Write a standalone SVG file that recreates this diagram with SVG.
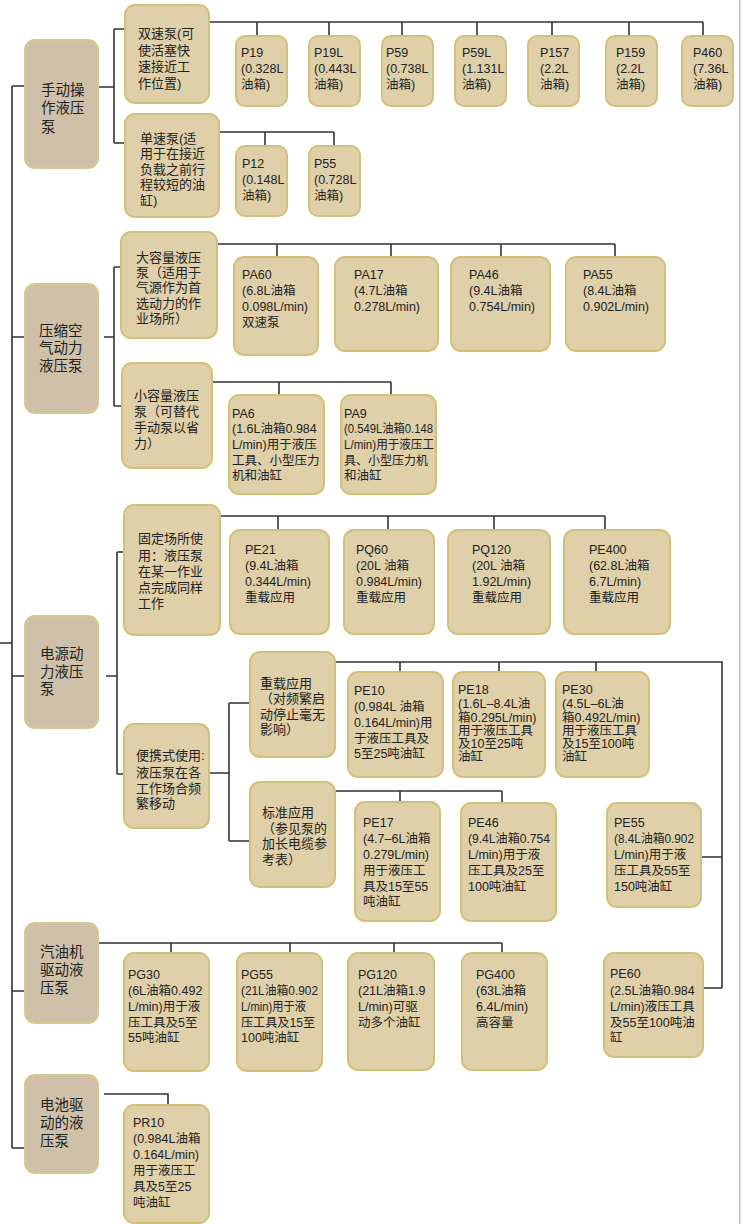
<svg xmlns="http://www.w3.org/2000/svg" width="742" height="1224" viewBox="0 0 742 1224">
<style>
.cat{fill:#cfc1a9;stroke:#d9c88e;stroke-width:2}
.leaf{fill:#dfd0a9;stroke:#d3c179;stroke-width:2}
.ct{font-family:"Liberation Sans","Noto Sans CJK SC",sans-serif;font-size:14.5px;fill:#222}
.st{font-family:"Liberation Sans","Noto Sans CJK SC",sans-serif;font-size:13px;fill:#222}
.lt{font-family:"Liberation Sans","Noto Sans CJK SC",sans-serif;font-size:12.5px;fill:#222}
.wire{fill:none;stroke:#333;stroke-width:1.6}
</style>
<rect width="742" height="1224" fill="#fff"/>
<rect x="739" y="0" width="1.5" height="1224" fill="#c4c4c4"/>
<g id="connectors" class="wire">
<path d="M12,86V1148M12,86H25M12,337H25M12,676H25M12,991H25M12,1148H25M0,643H12"/>
<path d="M98,87H114M114,29V143M114,29H125M114,143H125"/>
<path d="M209,22H703M257,22V36M329,22V36M402,22V36M477,22V36M552,22V36M629,22V36M703,22V36"/>
<path d="M219,132H334M265,132V146M334,132V146"/>
<path d="M104,337H114M114,267V406M114,267H121M114,406H122"/>
<path d="M217,244H615M277,244V257M391,244V257M501,244V257M615,244V257"/>
<path d="M212,382H391M279,382V395M391,382V395"/>
<path d="M106,676H117M117,552V774M117,552H124M117,774H124"/>
<path d="M220,516H605M278,516V530M388,516V530M494,516V530M605,516V530"/>
<path d="M209,773H229M229,703V841M229,703H250M229,841H250"/>
<path d="M335,662H722V988M400,662V672M499,662V672M596,662V672M701,857H722M703,988H722"/>
<path d="M335,791H502M400,791V802M502,791V802"/>
<path d="M98,943H502M171,943V953M290,943V953M394,943V953M502,943V953"/>
<path d="M104,1094H168V1105"/>
</g>
<g id="n-manual"><rect class="cat" x="25" y="40" width="73" height="128" rx="10"/><text class="ct"><tspan x="41" y="95">手动操</tspan><tspan x="41" y="113">作液压</tspan><tspan x="41" y="132">泵</tspan></text></g>
<g id="n-air"><rect class="cat" x="25" y="284" width="73" height="129" rx="10"/><text class="ct"><tspan x="39" y="336">压缩空</tspan><tspan x="39" y="353">气动力</tspan><tspan x="39" y="371">液压泵</tspan></text></g>
<g id="n-elec"><rect class="cat" x="25" y="616" width="73" height="112" rx="10"/><text class="ct"><tspan x="40" y="659">电源动</tspan><tspan x="40" y="677">力液压</tspan><tspan x="40" y="694">泵</tspan></text></g>
<g id="n-gas"><rect class="cat" x="25" y="923" width="73" height="100" rx="10"/><text class="ct"><tspan x="40" y="957">汽油机</tspan><tspan x="40" y="975">驱动液</tspan><tspan x="40" y="993">压泵</tspan></text></g>
<g id="n-batt"><rect class="cat" x="25" y="1075" width="73" height="98" rx="10"/><text class="ct"><tspan x="40" y="1110">电池驱</tspan><tspan x="40" y="1128">动的液</tspan><tspan x="40" y="1146">压泵</tspan></text></g>
<g id="n-dual"><rect class="leaf" x="125" y="5" width="84" height="98" rx="10"/><text class="st"><tspan x="138" y="38">双速泵(可</tspan><tspan x="138" y="55">使活塞快</tspan><tspan x="138" y="71">速接近工</tspan><tspan x="138" y="88">作位置)</tspan></text></g>
<g id="n-single"><rect class="leaf" x="125" y="114" width="94" height="103" rx="10"/><text class="st"><tspan x="140" y="143">单速泵(适</tspan><tspan x="140" y="158">用于在接近</tspan><tspan x="140" y="174">负载之前行</tspan><tspan x="140" y="189">程较短的油</tspan><tspan x="140" y="205">缸)</tspan></text></g>
<g id="n-big"><rect class="leaf" x="121" y="232" width="96" height="106" rx="10"/><text class="st"><tspan x="136" y="262">大容量液压</tspan><tspan x="136" y="277">泵（适用于</tspan><tspan x="136" y="292">气源作为首</tspan><tspan x="136" y="308">选动力的作</tspan><tspan x="136" y="323">业场所）</tspan></text></g>
<g id="n-small"><rect class="leaf" x="122" y="363" width="90" height="105" rx="10"/><text class="st"><tspan x="134" y="400">小容量液压</tspan><tspan x="134" y="416">泵（可替代</tspan><tspan x="134" y="432">手动泵以省</tspan><tspan x="134" y="448">力）</tspan></text></g>
<g id="n-fixed"><rect class="leaf" x="124" y="505" width="96" height="130" rx="10"/><text class="st"><tspan x="138" y="543">固定场所使</tspan><tspan x="138" y="560">用：液压泵</tspan><tspan x="138" y="576">在某一作业</tspan><tspan x="138" y="592">点完成同样</tspan><tspan x="138" y="608">工作</tspan></text></g>
<g id="n-portable"><rect class="leaf" x="124" y="724" width="85" height="104" rx="10"/><text class="st"><tspan x="136" y="760">便携式使用:</tspan><tspan x="136" y="777">液压泵在各</tspan><tspan x="136" y="793">工作场合频</tspan><tspan x="136" y="808">繁移动</tspan></text></g>
<g id="n-heavy"><rect class="leaf" x="250" y="652" width="85" height="105" rx="10"/><text class="st"><tspan x="260" y="688">重载应用</tspan><tspan x="260" y="703">（对频繁启</tspan><tspan x="260" y="719">动停止毫无</tspan><tspan x="260" y="734">影响）</tspan></text></g>
<g id="n-std"><rect class="leaf" x="250" y="782" width="85" height="105" rx="10"/><text class="st"><tspan x="262" y="817">标准应用</tspan><tspan x="262" y="833">（参见泵的</tspan><tspan x="262" y="848">加长电缆参</tspan><tspan x="262" y="864">考表）</tspan></text></g>
<g id="n-p19"><rect class="leaf" x="236" y="36" width="51" height="70" rx="9"/><text class="lt"><tspan x="241" y="57">P19</tspan><tspan x="241" y="73">(0.328L</tspan><tspan x="241" y="89">油箱)</tspan></text></g>
<g id="n-p19l"><rect class="leaf" x="309" y="36" width="51" height="70" rx="9"/><text class="lt"><tspan x="314" y="57">P19L</tspan><tspan x="314" y="73">(0.443L</tspan><tspan x="314" y="89">油箱)</tspan></text></g>
<g id="n-p59"><rect class="leaf" x="382" y="36" width="51" height="70" rx="9"/><text class="lt"><tspan x="386" y="57">P59</tspan><tspan x="386" y="73">(0.738L</tspan><tspan x="386" y="89">油箱)</tspan></text></g>
<g id="n-p59l"><rect class="leaf" x="455" y="36" width="51" height="70" rx="9"/><text class="lt"><tspan x="462" y="57">P59L</tspan><tspan x="462" y="73">(1.131L</tspan><tspan x="462" y="89">油箱)</tspan></text></g>
<g id="n-p157"><rect class="leaf" x="528" y="36" width="51" height="70" rx="9"/><text class="lt"><tspan x="540" y="57">P157</tspan><tspan x="540" y="73">(2.2L</tspan><tspan x="540" y="89">油箱)</tspan></text></g>
<g id="n-p159"><rect class="leaf" x="606" y="36" width="51" height="70" rx="9"/><text class="lt"><tspan x="616" y="57">P159</tspan><tspan x="616" y="73">(2.2L</tspan><tspan x="616" y="89">油箱)</tspan></text></g>
<g id="n-p460"><rect class="leaf" x="682" y="36" width="51" height="70" rx="9"/><text class="lt"><tspan x="693" y="57">P460</tspan><tspan x="693" y="73">(7.36L</tspan><tspan x="693" y="89">油箱)</tspan></text></g>
<g id="n-p12"><rect class="leaf" x="236" y="146" width="51" height="70" rx="9"/><text class="lt"><tspan x="242" y="168">P12</tspan><tspan x="242" y="184">(0.148L</tspan><tspan x="242" y="200">油箱)</tspan></text></g>
<g id="n-p55"><rect class="leaf" x="309" y="146" width="51" height="70" rx="9"/><text class="lt"><tspan x="314" y="168">P55</tspan><tspan x="314" y="184">(0.728L</tspan><tspan x="314" y="200">油箱)</tspan></text></g>
<g id="n-pa60"><rect class="leaf" x="234" y="257" width="84" height="98" rx="10"/><text class="lt"><tspan x="242" y="279">PA60</tspan><tspan x="242" y="295">(6.8L油箱</tspan><tspan x="242" y="311">0.098L/min)</tspan><tspan x="242" y="327">双速泵</tspan></text></g>
<g id="n-pa17"><rect class="leaf" x="335" y="257" width="103" height="94" rx="10"/><text class="lt"><tspan x="354" y="279">PA17</tspan><tspan x="354" y="295">(4.7L油箱</tspan><tspan x="354" y="311">0.278L/min)</tspan></text></g>
<g id="n-pa46"><rect class="leaf" x="451" y="257" width="99" height="94" rx="10"/><text class="lt"><tspan x="469" y="279">PA46</tspan><tspan x="469" y="295">(9.4L油箱</tspan><tspan x="469" y="311">0.754L/min)</tspan></text></g>
<g id="n-pa55"><rect class="leaf" x="566" y="257" width="99" height="94" rx="10"/><text class="lt"><tspan x="583" y="279">PA55</tspan><tspan x="583" y="295">(8.4L油箱</tspan><tspan x="583" y="311">0.902L/min)</tspan></text></g>
<g id="n-pa6"><rect class="leaf" x="229" y="395" width="95" height="99" rx="10"/><text class="lt"><tspan x="232" y="418">PA6</tspan><tspan x="232" y="433">(1.6L油箱0.984</tspan><tspan x="232" y="449">L/min)用于液压</tspan><tspan x="232" y="465">工具、小型压力</tspan><tspan x="232" y="480">机和油缸</tspan></text></g>
<g id="n-pa9"><rect class="leaf" x="341" y="395" width="95" height="99" rx="10"/><text class="lt"><tspan x="344" y="418">PA9</tspan><tspan x="344" y="433" textLength="89" lengthAdjust="spacingAndGlyphs">(0.549L油箱0.148</tspan><tspan x="344" y="449" textLength="90" lengthAdjust="spacingAndGlyphs">L/min)用于液压工</tspan><tspan x="344" y="465" textLength="84" lengthAdjust="spacingAndGlyphs">具、小型压力机</tspan><tspan x="344" y="480">和油缸</tspan></text></g>
<g id="n-pe21"><rect class="leaf" x="230" y="530" width="99" height="104" rx="10"/><text class="lt"><tspan x="245" y="554">PE21</tspan><tspan x="245" y="570">(9.4L油箱</tspan><tspan x="245" y="586">0.344L/min)</tspan><tspan x="245" y="602">重载应用</tspan></text></g>
<g id="n-pq60"><rect class="leaf" x="344" y="530" width="90" height="104" rx="10"/><text class="lt"><tspan x="356" y="554">PQ60</tspan><tspan x="356" y="570">(20L 油箱</tspan><tspan x="356" y="586">0.984L/min)</tspan><tspan x="356" y="602">重载应用</tspan></text></g>
<g id="n-pq120"><rect class="leaf" x="448" y="530" width="102" height="104" rx="10"/><text class="lt"><tspan x="472" y="554">PQ120</tspan><tspan x="472" y="570">(20L 油箱</tspan><tspan x="472" y="586">1.92L/min)</tspan><tspan x="472" y="602">重载应用</tspan></text></g>
<g id="n-pe400"><rect class="leaf" x="564" y="530" width="106" height="104" rx="10"/><text class="lt"><tspan x="589" y="554">PE400</tspan><tspan x="589" y="570">(62.8L油箱</tspan><tspan x="589" y="586">6.7L/min)</tspan><tspan x="589" y="602">重载应用</tspan></text></g>
<g id="n-pe10"><rect class="leaf" x="348" y="672" width="95" height="105" rx="10"/><text class="lt"><tspan x="354" y="695">PE10</tspan><tspan x="354" y="711">(0.984L 油箱</tspan><tspan x="354" y="727">0.164L/min)用</tspan><tspan x="354" y="743">于液压工具及</tspan><tspan x="354" y="758">5至25吨油缸</tspan></text></g>
<g id="n-pe18"><rect class="leaf" x="453" y="672" width="92" height="105" rx="10"/><text class="lt"><tspan x="458" y="694">PE18</tspan><tspan x="458" y="708">(1.6L–8.4L油</tspan><tspan x="458" y="722">箱0.295L/min)</tspan><tspan x="458" y="735">用于液压工具</tspan><tspan x="458" y="748">及10至25吨</tspan><tspan x="458" y="761">油缸</tspan></text></g>
<g id="n-pe30"><rect class="leaf" x="556" y="672" width="93" height="105" rx="10"/><text class="lt"><tspan x="562" y="694">PE30</tspan><tspan x="562" y="708">(4.5L–6L油</tspan><tspan x="562" y="722">箱0.492L/min)</tspan><tspan x="562" y="735">用于液压工具</tspan><tspan x="562" y="748">及15至100吨</tspan><tspan x="562" y="761">油缸</tspan></text></g>
<g id="n-pe17"><rect class="leaf" x="355" y="802" width="85" height="119" rx="10"/><text class="lt"><tspan x="363" y="827">PE17</tspan><tspan x="363" y="843">(4.7–6L油箱</tspan><tspan x="363" y="859">0.279L/min)</tspan><tspan x="363" y="875">用于液压工</tspan><tspan x="363" y="891">具及15至55</tspan><tspan x="363" y="906">吨油缸</tspan></text></g>
<g id="n-pe46"><rect class="leaf" x="461" y="803" width="95" height="118" rx="10"/><text class="lt"><tspan x="468" y="827">PE46</tspan><tspan x="468" y="843" textLength="82" lengthAdjust="spacingAndGlyphs">(9.4L油箱0.754</tspan><tspan x="468" y="859">L/min)用于液</tspan><tspan x="468" y="875">压工具及25至</tspan><tspan x="468" y="891">100吨油缸</tspan></text></g>
<g id="n-pe55"><rect class="leaf" x="607" y="803" width="94" height="104" rx="10"/><text class="lt"><tspan x="614" y="827">PE55</tspan><tspan x="614" y="843" textLength="80" lengthAdjust="spacingAndGlyphs">(8.4L油箱0.902</tspan><tspan x="614" y="859">L/min)用于液</tspan><tspan x="614" y="875">压工具及55至</tspan><tspan x="614" y="891">150吨油缸</tspan></text></g>
<g id="n-pe60"><rect class="leaf" x="604" y="953" width="99" height="104" rx="10"/><text class="lt"><tspan x="610" y="978">PE60</tspan><tspan x="610" y="995">(2.5L油箱0.984</tspan><tspan x="610" y="1011">L/min)液压工具</tspan><tspan x="610" y="1027">及55至100吨油</tspan><tspan x="610" y="1042">缸</tspan></text></g>
<g id="n-pg30"><rect class="leaf" x="124" y="953" width="85" height="118" rx="10"/><text class="lt"><tspan x="128" y="979">PG30</tspan><tspan x="128" y="995">(6L油箱0.492</tspan><tspan x="128" y="1011">L/min)用于液</tspan><tspan x="128" y="1027">压工具及5至</tspan><tspan x="128" y="1042">55吨油缸</tspan></text></g>
<g id="n-pg55"><rect class="leaf" x="237" y="953" width="85" height="118" rx="10"/><text class="lt"><tspan x="241" y="979">PG55</tspan><tspan x="241" y="995" textLength="77" lengthAdjust="spacingAndGlyphs">(21L油箱0.902</tspan><tspan x="241" y="1011" textLength="65" lengthAdjust="spacingAndGlyphs">L/min)用于液</tspan><tspan x="241" y="1027" textLength="74" lengthAdjust="spacingAndGlyphs">压工具及15至</tspan><tspan x="241" y="1042">100吨油缸</tspan></text></g>
<g id="n-pg120"><rect class="leaf" x="348" y="953" width="86" height="117" rx="10"/><text class="lt"><tspan x="358" y="979">PG120</tspan><tspan x="358" y="995">(21L油箱1.9</tspan><tspan x="358" y="1011">L/min)可驱</tspan><tspan x="358" y="1027">动多个油缸</tspan></text></g>
<g id="n-pg400"><rect class="leaf" x="462" y="953" width="85" height="117" rx="10"/><text class="lt"><tspan x="476" y="979">PG400</tspan><tspan x="476" y="995">(63L油箱</tspan><tspan x="476" y="1011">6.4L/min)</tspan><tspan x="476" y="1027">高容量</tspan></text></g>
<g id="n-pr10"><rect class="leaf" x="124" y="1105" width="85" height="118" rx="10"/><text class="lt"><tspan x="133" y="1127">PR10</tspan><tspan x="133" y="1143">(0.984L油箱</tspan><tspan x="133" y="1159">0.164L/min)</tspan><tspan x="133" y="1175">用于液压工</tspan><tspan x="133" y="1191">具及5至25</tspan><tspan x="133" y="1207">吨油缸</tspan></text></g>
</svg>
